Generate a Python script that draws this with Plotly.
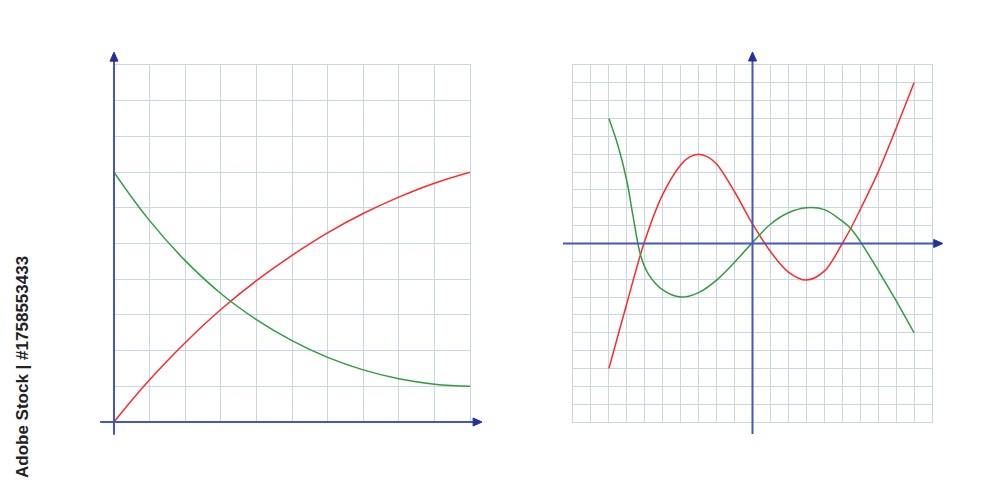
import plotly.graph_objects as go

# ---- Left panel data ----
left_x = [0, 1, 2, 3, 4, 5, 6, 7, 8, 9, 10]
left_red = [0, 1.18, 2.22, 3.15, 3.96, 4.67, 5.3, 5.84, 6.3, 6.69, 7.0]
left_green = [7, 5.64, 4.52, 3.6, 2.87, 2.28, 1.81, 1.46, 1.21, 1.06, 1.0]

# ---- Right panel data ----
right_red_x = [-8, -7, -6, -5, -4, -3.5, -3, -2.5, -2, -1, 0, 1, 2, 3, 4, 5, 5.47, 6, 7, 8, 9]
right_red_y = [-7, -3.35, 0.15, 2.75, 4.4, 4.85, 5.0, 4.85, 4.45, 2.9, 1.1, -0.45, -1.6, -2.05, -1.55, 0, 0.84, 1.9, 4.0, 6.45, 9.0]
right_green_x = [-8, -7.5, -7, -6.67, -6.22, -5.78, -5, -4, -3, -2, -1, 0, 1, 2, 3, 4, 5, 5.47, 6, 7, 8, 9]
right_green_y = [7, 5.5, 3.5, 1.62, -0.71, -1.74, -2.6, -3.0, -2.75, -2.05, -1.05, 0.05, 1.08, 1.72, 2.0, 1.9, 1.25, 0.84, 0.12, -1.5, -3.2, -5.0]

RED = "#ff2a2a"
GREEN = "#2e9e3e"
GRID = "#c9d6e4"
AXIS = "#4556bd"
HEAD = "#23329a"

OFF = 8  # page body margin
W, H = 1000 - OFF, 500 - OFF
# grid areas in page pixels
L = dict(x0=114, x1=470, y0=65, y1=422, r=(0, 10))
R = dict(x0=573, x1=932, y0=65, y1=422, r=(-10, 10))


def dom(b):
    return ([(b["x0"] - OFF) / W, (b["x1"] - OFF) / W],
            [1 - (b["y1"] - OFF) / H, 1 - (b["y0"] - OFF) / H])


def to_paper(b, x, y):
    r0, r1 = b["r"]
    (dx0, dx1), (dy0, dy1) = dom(b)
    return dx0 + (x - r0) / (r1 - r0) * (dx1 - dx0), dy0 + (y - r0) / (r1 - r0) * (dy1 - dy0)


lxd, lyd = dom(L)
rxd, ryd = dom(R)

fig = go.Figure()
for xs, ys, col, xa, ya, sm in [
    (left_x, left_red, RED, "x", "y", 1.3),
    (left_x, left_green, GREEN, "x", "y", 1.3),
    (right_red_x, right_red_y, RED, "x2", "y2", 1.0),
    (right_green_x, right_green_y, GREEN, "x2", "y2", 1.0),
]:
    fig.add_trace(go.Scatter(x=xs, y=ys, mode="lines",
                             line=dict(color=col, width=1.5, shape="spline", smoothing=sm),
                             xaxis=xa, yaxis=ya, showlegend=False, hoverinfo="skip"))

ax_common = dict(showticklabels=False, ticks="", zeroline=False, showgrid=True, gridcolor=GRID, gridwidth=1,
                 showline=True, linecolor=GRID, linewidth=1, mirror=True, dtick=1, fixedrange=True)

fig.update_layout(
    width=W, height=H, margin=dict(l=0, r=0, t=0, b=0),
    paper_bgcolor="white", plot_bgcolor="white",
    xaxis=dict(domain=lxd, range=list(L["r"]), anchor="y", **ax_common),
    yaxis=dict(domain=lyd, range=list(L["r"]), anchor="x", **ax_common),
    xaxis2=dict(domain=rxd, range=list(R["r"]), anchor="y2", **ax_common),
    yaxis2=dict(domain=ryd, range=list(R["r"]), anchor="x2", **ax_common),
)

shapes = []
HL, HW = 9 / W, 4 / H   # arrow head length / half-width for horizontal arrows (paper)
VL, VW = 9 / H, 4 / W   # for vertical arrows


def axis_arrow(b, start, end):
    xs, ys = to_paper(b, *start)
    xe, ye = to_paper(b, *end)
    if ys == ye:  # horizontal
        shapes.append(dict(type="line", xref="paper", yref="paper", x0=xs, y0=ys, x1=xe - HL * 0.5, y1=ye,
                           line=dict(color=AXIS, width=2)))
        path = f"M {xe} {ye} L {xe - HL} {ye + HW} L {xe - HL} {ye - HW} Z"
    else:
        shapes.append(dict(type="line", xref="paper", yref="paper", x0=xs, y0=ys, x1=xe, y1=ye - VL * 0.5,
                           line=dict(color=AXIS, width=2)))
        path = f"M {xe} {ye} L {xe - VW} {ye - VL} L {xe + VW} {ye - VL} Z"
    shapes.append(dict(type="path", xref="paper", yref="paper", path=path,
                       fillcolor=HEAD, line=dict(color=HEAD, width=1)))


axis_arrow(L, (-0.39, 0), (10.34, 0))
axis_arrow(L, (0, -0.36), (0, 10.36))
axis_arrow(R, (-10.56, 0), (10.6, 0))
axis_arrow(R, (0, -10.67), (0, 10.73))

fig.update_layout(shapes=shapes)
fig.add_annotation(text="<b>Adobe Stock | #1758553433</b>", x=(22 - OFF) / W, y=1 - (367 - OFF) / H,
                   xref="paper", yref="paper", showarrow=False, textangle=-90,
                   font=dict(family="Liberation Sans", size=17, color="#222222"),
                   xanchor="center", yanchor="middle")

fig.write_html("out.html")
